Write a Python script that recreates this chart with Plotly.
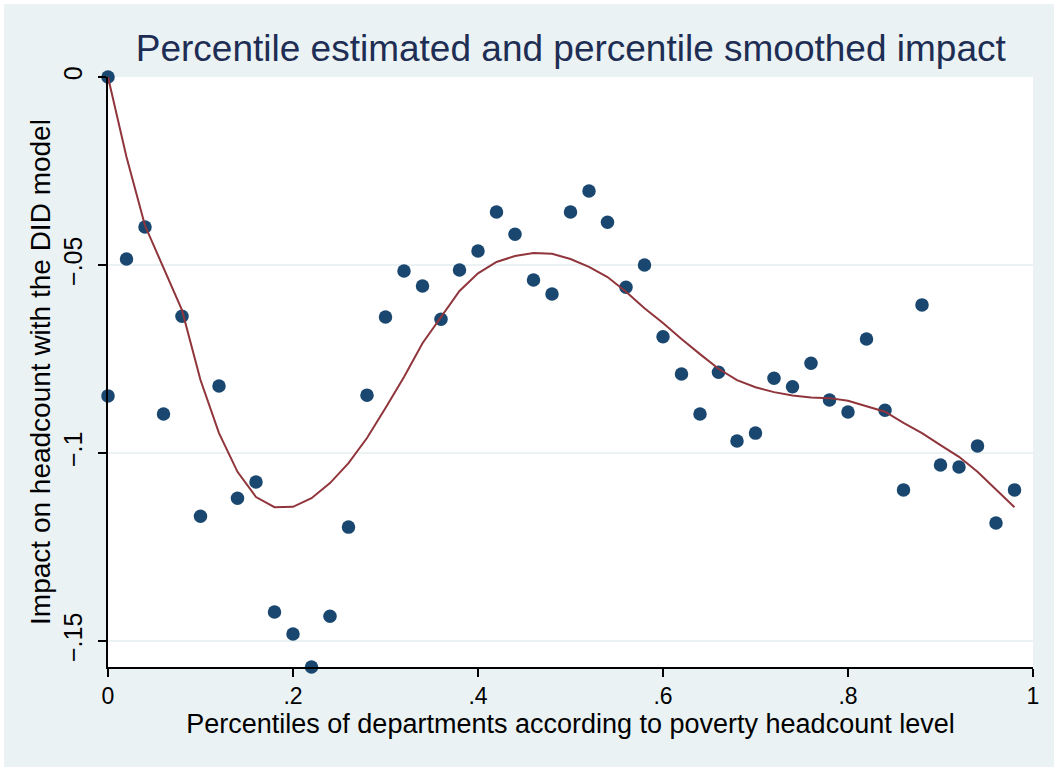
import plotly.graph_objects as go

# Percentile positions and estimated impact per percentile
pct = [0.00, 0.00, 0.02, 0.04, 0.06, 0.08, 0.10, 0.12, 0.14, 0.16, 0.18, 0.20,
       0.22, 0.24, 0.26, 0.28, 0.30, 0.32, 0.34, 0.36, 0.38, 0.40, 0.42, 0.44,
       0.46, 0.48, 0.50, 0.52, 0.54, 0.56, 0.58, 0.60, 0.62, 0.64, 0.66, 0.68,
       0.70, 0.72, 0.74, 0.76, 0.78, 0.80, 0.82, 0.84, 0.86, 0.88, 0.90, 0.92,
       0.94, 0.96, 0.98]
impact = [0.0, -0.0848, -0.0484, -0.0399, -0.0896, -0.0636, -0.1168, -0.0822,
          -0.1120, -0.1077, -0.1423, -0.1481, -0.1569, -0.1434, -0.1197, -0.0846,
          -0.0638, -0.0516, -0.0556, -0.0644, -0.0513, -0.0463, -0.0359, -0.0418,
          -0.0540, -0.0577, -0.0359, -0.0303, -0.0386, -0.0559, -0.0500, -0.0691,
          -0.0790, -0.0896, -0.0785, -0.0968, -0.0947, -0.0801, -0.0824, -0.0761,
          -0.0859, -0.0891, -0.0697, -0.0886, -0.1098, -0.0606, -0.1032, -0.1037,
          -0.0981, -0.1186, -0.1098]

# Smoothed impact curve
smooth_x = [0.00, 0.02, 0.04, 0.06, 0.08, 0.10, 0.12, 0.14, 0.16, 0.18, 0.20,
            0.22, 0.24, 0.26, 0.28, 0.30, 0.32, 0.34, 0.36, 0.38, 0.40, 0.42,
            0.44, 0.46, 0.48, 0.50, 0.52, 0.54, 0.56, 0.58, 0.60, 0.62, 0.64,
            0.66, 0.68, 0.70, 0.72, 0.74, 0.76, 0.78, 0.80, 0.82, 0.84, 0.86,
            0.88, 0.90, 0.92, 0.94, 0.96, 0.98]
smooth_y = [0.0, -0.0213, -0.0395, -0.0508, -0.0620, -0.0806, -0.0947, -0.1050,
            -0.1117, -0.1144, -0.1143, -0.1120, -0.1080, -0.1027, -0.0960,
            -0.0880, -0.0798, -0.0708, -0.0638, -0.0569, -0.0522, -0.0492,
            -0.0476, -0.0468, -0.0470, -0.0484, -0.0505, -0.0532, -0.0571,
            -0.0615, -0.0654, -0.0697, -0.0737, -0.0776, -0.0806, -0.0825,
            -0.0838, -0.0847, -0.0852, -0.0854, -0.0861, -0.0875, -0.0890,
            -0.0920, -0.0947, -0.0979, -0.1010, -0.1050, -0.1098, -0.1144]

x_ticks = [0, 0.2, 0.4, 0.6, 0.8, 1]
x_labels = ["0", ".2", ".4", ".6", ".8", "1"]
y_ticks = [0, -0.05, -0.1, -0.15]
y_labels = ["0", "\u2212.05", "\u2212.1", "\u2212.15"]

BG = "#EAF2F3"
NAVY = "#1A476F"
MAROON = "#90353B"
FONT = "Liberation Sans, Arial, sans-serif"

fig = go.Figure()
fig.add_trace(go.Scatter(
    x=pct, y=impact, mode="markers",
    marker=dict(color=NAVY, size=13.5, line=dict(width=0)),
    cliponaxis=False, showlegend=False,
))
fig.add_trace(go.Scatter(
    x=smooth_x, y=smooth_y, mode="lines",
    line=dict(color=MAROON, width=2),
    cliponaxis=False, showlegend=False,
))

fig.update_layout(
    width=1058, height=771,
    margin=dict(l=108, r=25, t=77, b=104),
    paper_bgcolor=BG, plot_bgcolor="white",
    font=dict(family=FONT, color="black", size=20),
    title=dict(
        text="Percentile estimated and percentile smoothed impact",
        font=dict(size=37, color="#1E2D53", family=FONT),
        x=0.5395, xanchor="center", y=0.938, yanchor="middle",
    ),
    xaxis=dict(
        range=[0, 1], tickvals=x_ticks, ticktext=x_labels,
        showgrid=False, zeroline=False,
        showline=True, linecolor="black", linewidth=1.5,
        ticks="outside", ticklen=8, tickwidth=1.5, tickcolor="black",
        tickfont=dict(size=23),
        title=dict(text="Percentiles of departments according to poverty headcount level",
                   font=dict(size=27), standoff=2),
    ),
    yaxis=dict(
        range=[-0.1569, 0], tickvals=y_ticks, ticktext=y_labels,
        tickangle=-90, ticklabelstandoff=6,
        showgrid=True, gridcolor=BG, gridwidth=2, zeroline=False,
        showline=True, linecolor="black", linewidth=1.5,
        ticks="outside", ticklen=8, tickwidth=1.5, tickcolor="black",
        tickfont=dict(size=25),
        title=dict(text="Impact on headcount with the DID model",
                   font=dict(size=28), standoff=0),
    ),
    shapes=[dict(
        type="rect", xref="paper", yref="paper",
        x0=-108 / 925 + 2 / 925, x1=1 + 25 / 925 - 2 / 925,
        y0=-104 / 590 + 2 / 590, y1=1 + 77 / 590 - 2 / 590,
        line=dict(color="white", width=4), fillcolor="rgba(0,0,0,0)",
        layer="below",
    )],
)

fig.write_html("out.html")
